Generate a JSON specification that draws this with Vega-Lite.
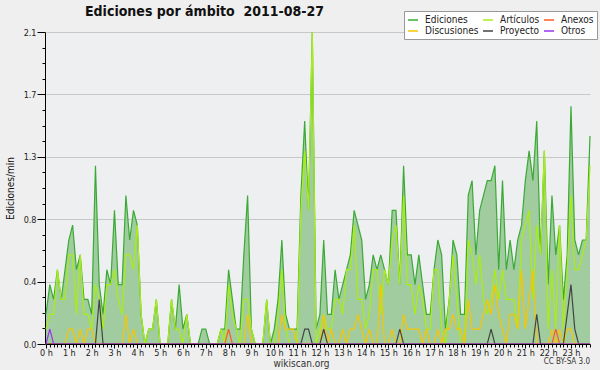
{
"$schema": "https://vega.github.io/schema/vega-lite/v6.json",
"width": 544, "height": 312,
"autosize": {"type": "none"},
"padding": {"left": 46, "top": 32, "right": 10, "bottom": 26},
"background": "#efefef",
"config": {"font": "DejaVu Sans Condensed, Liberation Sans", "view": {"fill": "#eeeff1", "stroke": null}, "axis": {"labelOverlap": false, "labelFlush": false}},
"title": {"text": "Ediciones por ámbito \u00a02011-08-27", "anchor": "start", "frame": "group", "dx": 39, "offset": 0, "dy": 19, "baseline": "alphabetic", "fontSize": 14, "fontWeight": "bold", "color": "#111111"},
"data": {"values": [
{"t":0,"Ediciones":0.2,"Artículos":0.1,"Discusiones":0,"Anexos":0,"Proyecto":0,"Otros":0},
{"t":10,"Ediciones":0.4,"Artículos":0.2,"Discusiones":0,"Anexos":0,"Proyecto":0,"Otros":0.1},
{"t":20,"Ediciones":0.3,"Artículos":0.2,"Discusiones":0,"Anexos":0,"Proyecto":0,"Otros":0},
{"t":30,"Ediciones":0.5,"Artículos":0.5,"Discusiones":0,"Anexos":0,"Proyecto":0,"Otros":0},
{"t":40,"Ediciones":0.3,"Artículos":0.3,"Discusiones":0,"Anexos":0,"Proyecto":0,"Otros":0},
{"t":50,"Ediciones":0.5,"Artículos":0.3,"Discusiones":0,"Anexos":0,"Proyecto":0,"Otros":0},
{"t":60,"Ediciones":0.7,"Artículos":0.6,"Discusiones":0.1,"Anexos":0,"Proyecto":0,"Otros":0},
{"t":70,"Ediciones":0.8,"Artículos":0.6,"Discusiones":0.1,"Anexos":0,"Proyecto":0,"Otros":0},
{"t":80,"Ediciones":0.5,"Artículos":0.2,"Discusiones":0,"Anexos":0,"Proyecto":0,"Otros":0},
{"t":90,"Ediciones":0.6,"Artículos":0.6,"Discusiones":0.1,"Anexos":0,"Proyecto":0,"Otros":0},
{"t":100,"Ediciones":0.3,"Artículos":0.2,"Discusiones":0,"Anexos":0,"Proyecto":0,"Otros":0},
{"t":110,"Ediciones":0.3,"Artículos":0.2,"Discusiones":0.1,"Anexos":0,"Proyecto":0,"Otros":0},
{"t":120,"Ediciones":0.2,"Artículos":0.1,"Discusiones":0.1,"Anexos":0,"Proyecto":0,"Otros":0},
{"t":130,"Ediciones":1.2,"Artículos":0.4,"Discusiones":0,"Anexos":0,"Proyecto":0,"Otros":0},
{"t":140,"Ediciones":0.4,"Artículos":0.3,"Discusiones":0,"Anexos":0,"Proyecto":0.3,"Otros":0},
{"t":150,"Ediciones":0.2,"Artículos":0.1,"Discusiones":0,"Anexos":0,"Proyecto":0,"Otros":0},
{"t":160,"Ediciones":0.5,"Artículos":0.4,"Discusiones":0,"Anexos":0,"Proyecto":0,"Otros":0},
{"t":170,"Ediciones":0.4,"Artículos":0.4,"Discusiones":0,"Anexos":0,"Proyecto":0,"Otros":0},
{"t":180,"Ediciones":0.9,"Artículos":0.5,"Discusiones":0,"Anexos":0,"Proyecto":0,"Otros":0},
{"t":190,"Ediciones":0.4,"Artículos":0.3,"Discusiones":0,"Anexos":0,"Proyecto":0,"Otros":0},
{"t":200,"Ediciones":0.4,"Artículos":0.2,"Discusiones":0,"Anexos":0,"Proyecto":0,"Otros":0},
{"t":210,"Ediciones":1.0,"Artículos":0.6,"Discusiones":0.2,"Anexos":0,"Proyecto":0,"Otros":0},
{"t":220,"Ediciones":0.7,"Artículos":0.6,"Discusiones":0,"Anexos":0,"Proyecto":0,"Otros":0},
{"t":230,"Ediciones":0.9,"Artículos":0.5,"Discusiones":0.1,"Anexos":0,"Proyecto":0,"Otros":0},
{"t":240,"Ediciones":0.8,"Artículos":0.8,"Discusiones":0,"Anexos":0,"Proyecto":0,"Otros":0},
{"t":250,"Ediciones":0.2,"Artículos":0.2,"Discusiones":0,"Anexos":0,"Proyecto":0,"Otros":0},
{"t":260,"Ediciones":0,"Artículos":0,"Discusiones":0,"Anexos":0,"Proyecto":0,"Otros":0},
{"t":270,"Ediciones":0.1,"Artículos":0.1,"Discusiones":0,"Anexos":0,"Proyecto":0,"Otros":0},
{"t":280,"Ediciones":0.1,"Artículos":0.1,"Discusiones":0,"Anexos":0,"Proyecto":0,"Otros":0},
{"t":290,"Ediciones":0.3,"Artículos":0.3,"Discusiones":0,"Anexos":0,"Proyecto":0,"Otros":0},
{"t":300,"Ediciones":0,"Artículos":0,"Discusiones":0,"Anexos":0,"Proyecto":0,"Otros":0},
{"t":310,"Ediciones":0,"Artículos":0,"Discusiones":0,"Anexos":0,"Proyecto":0,"Otros":0},
{"t":320,"Ediciones":0,"Artículos":0,"Discusiones":0,"Anexos":0,"Proyecto":0,"Otros":0},
{"t":330,"Ediciones":0.3,"Artículos":0.3,"Discusiones":0,"Anexos":0,"Proyecto":0,"Otros":0},
{"t":340,"Ediciones":0.1,"Artículos":0.1,"Discusiones":0,"Anexos":0,"Proyecto":0,"Otros":0},
{"t":350,"Ediciones":0.4,"Artículos":0.1,"Discusiones":0,"Anexos":0,"Proyecto":0,"Otros":0},
{"t":360,"Ediciones":0.1,"Artículos":0,"Discusiones":0,"Anexos":0,"Proyecto":0,"Otros":0},
{"t":370,"Ediciones":0.2,"Artículos":0.2,"Discusiones":0,"Anexos":0,"Proyecto":0,"Otros":0},
{"t":380,"Ediciones":0,"Artículos":0,"Discusiones":0,"Anexos":0,"Proyecto":0,"Otros":0},
{"t":390,"Ediciones":0,"Artículos":0,"Discusiones":0,"Anexos":0,"Proyecto":0,"Otros":0},
{"t":400,"Ediciones":0,"Artículos":0,"Discusiones":0,"Anexos":0,"Proyecto":0,"Otros":0},
{"t":410,"Ediciones":0.1,"Artículos":0,"Discusiones":0,"Anexos":0,"Proyecto":0,"Otros":0},
{"t":420,"Ediciones":0.1,"Artículos":0,"Discusiones":0,"Anexos":0,"Proyecto":0,"Otros":0},
{"t":430,"Ediciones":0,"Artículos":0,"Discusiones":0,"Anexos":0,"Proyecto":0,"Otros":0},
{"t":440,"Ediciones":0,"Artículos":0,"Discusiones":0,"Anexos":0,"Proyecto":0,"Otros":0},
{"t":450,"Ediciones":0,"Artículos":0,"Discusiones":0,"Anexos":0,"Proyecto":0,"Otros":0},
{"t":460,"Ediciones":0.1,"Artículos":0.1,"Discusiones":0,"Anexos":0,"Proyecto":0,"Otros":0},
{"t":470,"Ediciones":0.1,"Artículos":0,"Discusiones":0,"Anexos":0,"Proyecto":0,"Otros":0},
{"t":480,"Ediciones":0.5,"Artículos":0.4,"Discusiones":0,"Anexos":0.1,"Proyecto":0,"Otros":0},
{"t":490,"Ediciones":0.3,"Artículos":0.2,"Discusiones":0,"Anexos":0,"Proyecto":0,"Otros":0},
{"t":500,"Ediciones":0.1,"Artículos":0.1,"Discusiones":0,"Anexos":0,"Proyecto":0,"Otros":0},
{"t":510,"Ediciones":0.1,"Artículos":0,"Discusiones":0,"Anexos":0,"Proyecto":0,"Otros":0},
{"t":520,"Ediciones":0.6,"Artículos":0.3,"Discusiones":0,"Anexos":0,"Proyecto":0,"Otros":0},
{"t":530,"Ediciones":1.0,"Artículos":0.3,"Discusiones":0.2,"Anexos":0,"Proyecto":0,"Otros":0},
{"t":540,"Ediciones":0.1,"Artículos":0.1,"Discusiones":0,"Anexos":0,"Proyecto":0,"Otros":0},
{"t":550,"Ediciones":0,"Artículos":0,"Discusiones":0,"Anexos":0,"Proyecto":0,"Otros":0},
{"t":560,"Ediciones":0,"Artículos":0,"Discusiones":0,"Anexos":0,"Proyecto":0,"Otros":0},
{"t":570,"Ediciones":0,"Artículos":0,"Discusiones":0,"Anexos":0,"Proyecto":0,"Otros":0},
{"t":580,"Ediciones":0.3,"Artículos":0.3,"Discusiones":0,"Anexos":0,"Proyecto":0,"Otros":0},
{"t":590,"Ediciones":0,"Artículos":0,"Discusiones":0,"Anexos":0,"Proyecto":0,"Otros":0},
{"t":600,"Ediciones":0.1,"Artículos":0,"Discusiones":0,"Anexos":0,"Proyecto":0,"Otros":0},
{"t":610,"Ediciones":0.3,"Artículos":0.2,"Discusiones":0,"Anexos":0,"Proyecto":0,"Otros":0},
{"t":620,"Ediciones":0.7,"Artículos":0.5,"Discusiones":0.2,"Anexos":0,"Proyecto":0,"Otros":0},
{"t":630,"Ediciones":0.2,"Artículos":0.1,"Discusiones":0.1,"Anexos":0,"Proyecto":0,"Otros":0},
{"t":640,"Ediciones":0.1,"Artículos":0,"Discusiones":0.1,"Anexos":0,"Proyecto":0,"Otros":0},
{"t":650,"Ediciones":0.1,"Artículos":0,"Discusiones":0.1,"Anexos":0,"Proyecto":0,"Otros":0},
{"t":660,"Ediciones":0.1,"Artículos":0,"Discusiones":0,"Anexos":0,"Proyecto":0,"Otros":0},
{"t":670,"Ediciones":1.0,"Artículos":0.9,"Discusiones":0,"Anexos":0,"Proyecto":0,"Otros":0},
{"t":680,"Ediciones":1.5,"Artículos":1.3,"Discusiones":0,"Anexos":0,"Proyecto":0.1,"Otros":0},
{"t":690,"Ediciones":0.9,"Artículos":0.9,"Discusiones":0,"Anexos":0,"Proyecto":0.1,"Otros":0},
{"t":700,"Ediciones":2.1,"Artículos":2.1,"Discusiones":0,"Anexos":0,"Proyecto":0,"Otros":0},
{"t":710,"Ediciones":0.1,"Artículos":0,"Discusiones":0,"Anexos":0,"Proyecto":0,"Otros":0},
{"t":720,"Ediciones":0.2,"Artículos":0.1,"Discusiones":0,"Anexos":0,"Proyecto":0,"Otros":0},
{"t":730,"Ediciones":0.7,"Artículos":0.2,"Discusiones":0.2,"Anexos":0,"Proyecto":0.1,"Otros":0},
{"t":740,"Ediciones":0.2,"Artículos":0.1,"Discusiones":0,"Anexos":0,"Proyecto":0,"Otros":0},
{"t":750,"Ediciones":0.2,"Artículos":0.1,"Discusiones":0.1,"Anexos":0,"Proyecto":0,"Otros":0},
{"t":760,"Ediciones":0.5,"Artículos":0.3,"Discusiones":0,"Anexos":0,"Proyecto":0,"Otros":0},
{"t":770,"Ediciones":0.3,"Artículos":0.3,"Discusiones":0,"Anexos":0,"Proyecto":0,"Otros":0},
{"t":780,"Ediciones":0.4,"Artículos":0.2,"Discusiones":0.1,"Anexos":0,"Proyecto":0,"Otros":0},
{"t":790,"Ediciones":0.5,"Artículos":0.5,"Discusiones":0,"Anexos":0,"Proyecto":0,"Otros":0},
{"t":800,"Ediciones":0.6,"Artículos":0.5,"Discusiones":0.1,"Anexos":0,"Proyecto":0,"Otros":0},
{"t":810,"Ediciones":0.9,"Artículos":0.8,"Discusiones":0.1,"Anexos":0,"Proyecto":0,"Otros":0},
{"t":820,"Ediciones":0.8,"Artículos":0.3,"Discusiones":0.2,"Anexos":0,"Proyecto":0,"Otros":0},
{"t":830,"Ediciones":0.7,"Artículos":0.3,"Discusiones":0.1,"Anexos":0,"Proyecto":0,"Otros":0},
{"t":840,"Ediciones":0.3,"Artículos":0.1,"Discusiones":0,"Anexos":0,"Proyecto":0,"Otros":0},
{"t":850,"Ediciones":0.4,"Artículos":0.2,"Discusiones":0.1,"Anexos":0,"Proyecto":0,"Otros":0},
{"t":860,"Ediciones":0.6,"Artículos":0.5,"Discusiones":0,"Anexos":0,"Proyecto":0,"Otros":0},
{"t":870,"Ediciones":0.5,"Artículos":0.5,"Discusiones":0,"Anexos":0,"Proyecto":0,"Otros":0},
{"t":880,"Ediciones":0.6,"Artículos":0.2,"Discusiones":0.4,"Anexos":0,"Proyecto":0,"Otros":0},
{"t":890,"Ediciones":0.5,"Artículos":0.5,"Discusiones":0,"Anexos":0,"Proyecto":0,"Otros":0},
{"t":900,"Ediciones":0.4,"Artículos":0.4,"Discusiones":0,"Anexos":0,"Proyecto":0,"Otros":0},
{"t":910,"Ediciones":0.9,"Artículos":0.7,"Discusiones":0.1,"Anexos":0,"Proyecto":0,"Otros":0},
{"t":920,"Ediciones":0.9,"Artículos":0.8,"Discusiones":0,"Anexos":0,"Proyecto":0,"Otros":0},
{"t":930,"Ediciones":0.4,"Artículos":0.4,"Discusiones":0,"Anexos":0,"Proyecto":0.1,"Otros":0},
{"t":940,"Ediciones":1.2,"Artículos":1.0,"Discusiones":0.2,"Anexos":0,"Proyecto":0,"Otros":0},
{"t":950,"Ediciones":0.6,"Artículos":0.4,"Discusiones":0.1,"Anexos":0,"Proyecto":0,"Otros":0},
{"t":960,"Ediciones":0.6,"Artículos":0.4,"Discusiones":0.1,"Anexos":0,"Proyecto":0,"Otros":0},
{"t":970,"Ediciones":0.4,"Artículos":0.2,"Discusiones":0.1,"Anexos":0,"Proyecto":0,"Otros":0},
{"t":980,"Ediciones":0.6,"Artículos":0.4,"Discusiones":0.1,"Anexos":0,"Proyecto":0,"Otros":0},
{"t":990,"Ediciones":0.4,"Artículos":0.3,"Discusiones":0,"Anexos":0,"Proyecto":0,"Otros":0},
{"t":1000,"Ediciones":0.2,"Artículos":0.1,"Discusiones":0.1,"Anexos":0,"Proyecto":0,"Otros":0},
{"t":1010,"Ediciones":0.2,"Artículos":0.1,"Discusiones":0,"Anexos":0,"Proyecto":0,"Otros":0},
{"t":1020,"Ediciones":0.5,"Artículos":0.5,"Discusiones":0,"Anexos":0,"Proyecto":0,"Otros":0},
{"t":1030,"Ediciones":0.7,"Artículos":0.5,"Discusiones":0.1,"Anexos":0,"Proyecto":0,"Otros":0},
{"t":1040,"Ediciones":0.6,"Artículos":0.1,"Discusiones":0,"Anexos":0,"Proyecto":0,"Otros":0},
{"t":1050,"Ediciones":0.1,"Artículos":0,"Discusiones":0.1,"Anexos":0,"Proyecto":0,"Otros":0},
{"t":1060,"Ediciones":0.3,"Artículos":0.3,"Discusiones":0.1,"Anexos":0,"Proyecto":0,"Otros":0},
{"t":1070,"Ediciones":0.7,"Artículos":0.6,"Discusiones":0.2,"Anexos":0,"Proyecto":0,"Otros":0},
{"t":1080,"Ediciones":0.6,"Artículos":0.3,"Discusiones":0.1,"Anexos":0,"Proyecto":0,"Otros":0},
{"t":1090,"Ediciones":0.2,"Artículos":0,"Discusiones":0.1,"Anexos":0,"Proyecto":0,"Otros":0},
{"t":1100,"Ediciones":0.2,"Artículos":0,"Discusiones":0,"Anexos":0,"Proyecto":0,"Otros":0},
{"t":1110,"Ediciones":1.0,"Artículos":0.7,"Discusiones":0.3,"Anexos":0,"Proyecto":0,"Otros":0},
{"t":1120,"Ediciones":1.1,"Artículos":0.6,"Discusiones":0.1,"Anexos":0,"Proyecto":0,"Otros":0},
{"t":1130,"Ediciones":0.6,"Artículos":0.4,"Discusiones":0.1,"Anexos":0,"Proyecto":0,"Otros":0},
{"t":1140,"Ediciones":0.9,"Artículos":0.6,"Discusiones":0.1,"Anexos":0,"Proyecto":0,"Otros":0},
{"t":1150,"Ediciones":1.0,"Artículos":0.3,"Discusiones":0.2,"Anexos":0,"Proyecto":0,"Otros":0},
{"t":1160,"Ediciones":1.1,"Artículos":0.2,"Discusiones":0.3,"Anexos":0,"Proyecto":0,"Otros":0},
{"t":1170,"Ediciones":1.1,"Artículos":0.3,"Discusiones":0.2,"Anexos":0,"Proyecto":0.1,"Otros":0},
{"t":1180,"Ediciones":1.2,"Artículos":0.5,"Discusiones":0.4,"Anexos":0,"Proyecto":0,"Otros":0},
{"t":1190,"Ediciones":0.5,"Artículos":0.3,"Discusiones":0.2,"Anexos":0,"Proyecto":0,"Otros":0},
{"t":1200,"Ediciones":1.1,"Artículos":0.5,"Discusiones":0.1,"Anexos":0,"Proyecto":0,"Otros":0},
{"t":1210,"Ediciones":0.5,"Artículos":0.3,"Discusiones":0,"Anexos":0,"Proyecto":0,"Otros":0},
{"t":1220,"Ediciones":0.7,"Artículos":0.3,"Discusiones":0.2,"Anexos":0,"Proyecto":0,"Otros":0},
{"t":1230,"Ediciones":0.5,"Artículos":0.3,"Discusiones":0.2,"Anexos":0,"Proyecto":0,"Otros":0},
{"t":1240,"Ediciones":0.7,"Artículos":0.1,"Discusiones":0.1,"Anexos":0,"Proyecto":0,"Otros":0},
{"t":1250,"Ediciones":0.8,"Artículos":0.7,"Discusiones":0.5,"Anexos":0,"Proyecto":0,"Otros":0},
{"t":1260,"Ediciones":1.1,"Artículos":0.8,"Discusiones":0.1,"Anexos":0,"Proyecto":0,"Otros":0},
{"t":1270,"Ediciones":1.3,"Artículos":0.9,"Discusiones":0.3,"Anexos":0,"Proyecto":0,"Otros":0},
{"t":1280,"Ediciones":1.1,"Artículos":0.3,"Discusiones":0.5,"Anexos":0,"Proyecto":0,"Otros":0},
{"t":1290,"Ediciones":1.5,"Artículos":0.8,"Discusiones":0,"Anexos":0,"Proyecto":0.2,"Otros":0},
{"t":1300,"Ediciones":0.6,"Artículos":0.6,"Discusiones":0,"Anexos":0,"Proyecto":0,"Otros":0},
{"t":1310,"Ediciones":1.3,"Artículos":1.3,"Discusiones":0,"Anexos":0,"Proyecto":0,"Otros":0},
{"t":1320,"Ediciones":0.4,"Artículos":0.1,"Discusiones":0,"Anexos":0,"Proyecto":0,"Otros":0},
{"t":1330,"Ediciones":1.0,"Artículos":0.5,"Discusiones":0.1,"Anexos":0,"Proyecto":0,"Otros":0},
{"t":1340,"Ediciones":0.6,"Artículos":0.1,"Discusiones":0,"Anexos":0.1,"Proyecto":0,"Otros":0},
{"t":1350,"Ediciones":0.8,"Artículos":0.8,"Discusiones":0.1,"Anexos":0,"Proyecto":0,"Otros":0},
{"t":1360,"Ediciones":0.3,"Artículos":0.1,"Discusiones":0,"Anexos":0,"Proyecto":0,"Otros":0},
{"t":1370,"Ediciones":0.6,"Artículos":0.5,"Discusiones":0.1,"Anexos":0,"Proyecto":0.2,"Otros":0},
{"t":1380,"Ediciones":1.6,"Artículos":1.0,"Discusiones":0.1,"Anexos":0,"Proyecto":0.4,"Otros":0},
{"t":1390,"Ediciones":0.7,"Artículos":0.5,"Discusiones":0,"Anexos":0,"Proyecto":0.1,"Otros":0},
{"t":1400,"Ediciones":0.6,"Artículos":0.5,"Discusiones":0,"Anexos":0,"Proyecto":0,"Otros":0},
{"t":1410,"Ediciones":0.7,"Artículos":0.6,"Discusiones":0,"Anexos":0,"Proyecto":0,"Otros":0},
{"t":1420,"Ediciones":0.7,"Artículos":0.7,"Discusiones":0,"Anexos":0,"Proyecto":0,"Otros":0},
{"t":1430,"Ediciones":1.4,"Artículos":1.2,"Discusiones":0,"Anexos":0,"Proyecto":0,"Otros":0}
]},
"layer": [
{"mark": {"type": "area", "color": "#a0cca0", "opacity": 1},
 "encoding": {
  "x": {"field": "t", "type": "quantitative", "title": "wikiscan.org",
   "scale": {"domain": [0, 1430], "nice": false, "zero": false},
   "axis": {
    "values": [0,10,20,30,40,50,60,70,80,90,100,110,120,130,140,150,160,170,180,190,200,210,220,230,240,250,260,270,280,290,300,310,320,330,340,350,360,370,380,390,400,410,420,430,440,450,460,470,480,490,500,510,520,530,540,550,560,570,580,590,600,610,620,630,640,650,660,670,680,690,700,710,720,730,740,750,760,770,780,790,800,810,820,830,840,850,860,870,880,890,900,910,920,930,940,950,960,970,980,990,1000,1010,1020,1030,1040,1050,1060,1070,1080,1090,1100,1110,1120,1130,1140,1150,1160,1170,1180,1190,1200,1210,1220,1230,1240,1250,1260,1270,1280,1290,1300,1310,1320,1330,1340,1350,1360,1370,1380,1390,1400,1410,1420,1430],
    "tickCount": 500,
    "labelExpr": "datum.value % 60 == 0 ? (datum.value / 60) + ' h' : ''",
    "labelOverlap": false, "labelFlush": false, "labelFontSize": 9, "labelColor": "#222222", "labelPadding": 0,
    "tickSize": {"condition": {"test": "datum.value % 60 == 0", "value": 4}, "value": 3},
    "tickColor": "#000000", "domainColor": "#000000", "grid": false,
    "titleFontSize": 10, "titleFontWeight": "normal", "titleColor": "#333333", "titlePadding": 1, "titleX": 255,
    "zindex": 1
   }},
  "y": {"field": "Ediciones", "type": "quantitative", "title": "Ediciones/min",
   "scale": {"domain": [0, 2.1], "nice": false},
   "axis": {
    "values": [0,0.105,0.21,0.315,0.42,0.525,0.63,0.735,0.84,0.945,1.05,1.155,1.26,1.365,1.47,1.575,1.68,1.785,1.89,1.995,2.1],
    "tickCount": 100,
    "labelExpr": "round(datum.value / 0.105) % 4 == 0 ? format(datum.value, '.1f') : ''",
    "labelOverlap": false, "labelFlush": false, "labelFontSize": 9, "labelColor": "#222222", "labelPadding": 1,
    "tickSize": {"condition": {"test": "round(datum.value / 0.105) % 4 == 0", "value": 8}, "value": 3},
    "tickColor": "#000000", "domainColor": "#000000",
    "grid": true, "gridColor": "#c8c8c8",
    "gridOpacity": {"condition": {"test": "round(datum.value / 0.105) % 4 == 0 && datum.value > 0", "value": 1}, "value": 0},
    "titleFontSize": 10, "titleFontWeight": "normal", "titleColor": "#111111", "titlePadding": 8,
    "offset": 1, "zindex": 0
   }}
 }},
{"transform": [{"fold": ["Ediciones", "Artículos", "Discusiones", "Anexos", "Proyecto", "Otros"], "as": ["serie", "v"]}],
 "mark": {"type": "line", "strokeWidth": 1.2},
 "encoding": {
  "x": {"field": "t", "type": "quantitative", "title": "wikiscan.org"},
  "y": {"field": "v", "type": "quantitative", "title": "Ediciones/min"},
  "color": {"field": "serie", "type": "nominal",
   "scale": {"domain": ["Ediciones", "Artículos", "Anexos", "Discusiones", "Proyecto", "Otros"],
             "range": ["#3aaa35", "#aaee11", "#ff5a1f", "#f7c600", "#444444", "#9933ee"]},
   "legend": {"orient": "none", "legendX": 358, "legendY": -21, "direction": "horizontal", "columns": 3, "title": null,
    "symbolType": "stroke", "symbolSize": 100, "symbolStrokeWidth": 1.5,
    "labelFontSize": 10, "labelColor": "#222222", "labelOffset": 6, "labelLimit": 120,
    "padding": 3, "fillColor": "#ffffff", "strokeColor": "#999999",
    "columnPadding": 1, "rowPadding": 0}}
 }},
{"data": {"values": [{"label": "CC BY-SA 3.0"}]},
 "mark": {"type": "text", "align": "right", "baseline": "middle", "dy": 18, "fontSize": 8, "color": "#333333"},
 "encoding": {
  "x": {"datum": 1430, "title": "wikiscan.org"},
  "y": {"datum": 0, "title": "Ediciones/min"},
  "text": {"field": "label"}
 }}
]
}
